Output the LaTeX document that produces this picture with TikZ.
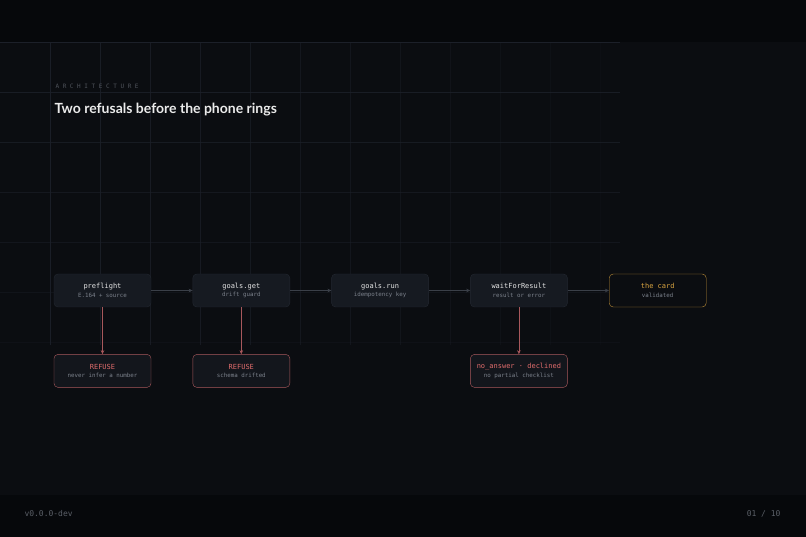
\documentclass[tikz,border=0pt]{standalone}
\usepackage{fontspec}
\setmainfont{Lato}
\setmonofont{DejaVu Sans Mono}
\usetikzlibrary{positioning,arrows.meta}
\definecolor{bgmain}{HTML}{0B0D11}
\definecolor{bgbar}{HTML}{06080B}
\definecolor{gridc}{HTML}{1C2029}
\definecolor{boxfill}{HTML}{161A21}
\definecolor{boxline}{HTML}{232831}
\definecolor{refred}{HTML}{E06C6C}
\definecolor{refline}{HTML}{A8585C}
\definecolor{gold}{HTML}{D9A441}
\definecolor{dimtext}{HTML}{7C828C}
\definecolor{arrowc}{HTML}{3A3F48}
\tikzset{>=stealth,
  stage/.style={draw=boxline,fill=boxfill,rounded corners=4pt,minimum width=97pt,minimum height=33pt,inner sep=0pt,align=center,font=\ttfamily\fontsize{7}{9.5}\selectfont,text=white!90!black},
  refuse/.style={stage,fill=boxfill!70!bgmain,draw=refline,text=refred},
  card/.style={stage,fill=bgmain,draw=gold!85!black,text=gold},
  flow/.style={-{Stealth[length=4pt,width=3.5pt]},arrowc,thin},
  fail/.style={-{Stealth[length=4pt,width=3.5pt]},refline,thin}}
\newcommand{\sub}[1]{\\[-1pt]{\fontsize{5.8}{7}\selectfont\color{dimtext}#1}}
\begin{document}
\begin{tikzpicture}[x=1pt,y=-1pt]
    \fill[bgmain] (0,0) rectangle (806,537);
    \useasboundingbox (0,0) rectangle (806,537);
    \fill[bgbar] (0,0) rectangle (806,42);
    \fill[bgbar] (0,495) rectangle (806,537);
    % faint grid, fading away from the top left
    \foreach \x in {50,100,...,600}{
      \pgfmathsetmacro\op{max(0.1,1-\x/700)}
      \draw[gridc,line width=0.5pt,opacity=\op] (\x,42) -- (\x,345);}
    \foreach \y in {42,92,...,342}{
      \pgfmathsetmacro\op{max(0.1,1-(\y-42)/400)}
      \draw[gridc,line width=0.5pt,opacity=\op] (0,\y) -- (620,\y);}
    \node[anchor=west,font=\ttfamily\fontsize{6}{6}\selectfont,text=dimtext!60!bgmain] at (52,86) {A R C H I T E C T U R E};
    \node[anchor=west,font=\bfseries\fontsize{14}{16}\selectfont,text=white!92!black] at (51,110) {Two refusals before the phone rings};
    \node[stage] (pre) at (102.5,290.5) {preflight\sub{E.164 + source}};
    \node[stage,right=41.4pt of pre] (get) {goals.get\sub{drift guard}};
    \node[stage,right=41.4pt of get] (run) {goals.run\sub{idempotency key}};
    \node[stage,right=41.4pt of run] (wait) {waitForResult\sub{result or error}};
    \node[card,right=41.4pt of wait] (card) {the card\sub{validated}};
    \node[refuse,below=47pt of pre] (r1) {REFUSE\sub{never infer a number}};
    \node[refuse,below=47pt of get] (r2) {REFUSE\sub{schema drifted}};
    \node[refuse,below=47pt of wait] (r3) {no\_answer · declined\sub{no partial checklist}};
    \draw[flow] (pre) -- (get);
    \draw[flow] (get) -- (run);
    \draw[flow] (run) -- (wait);
    \draw[flow] (wait) -- (card);
    \draw[fail] (pre) -- (r1);
    \draw[fail] (get) -- (r2);
    \draw[fail] (wait) -- (r3);
    \node[anchor=west,font=\ttfamily\fontsize{8}{9}\selectfont,text=dimtext!70!bgmain] at (21,514) {v0.0.0-dev};
    \node[anchor=east,font=\ttfamily\fontsize{8}{9}\selectfont,text=dimtext!70!bgmain] at (784,514) {01 / 10};
\end{tikzpicture}
\end{document}
